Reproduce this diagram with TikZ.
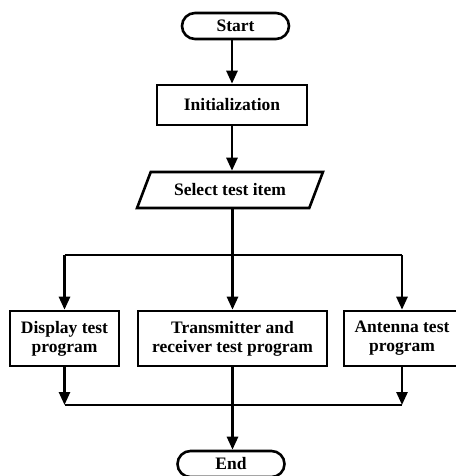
\documentclass[tikz,border=0pt]{standalone}
\usepackage{fontspec}
\setmainfont{Liberation Serif}
\usetikzlibrary{arrows.meta,shapes.geometric}
\begin{document}
\begin{tikzpicture}[x=1pt,y=-1pt,
  every node/.style={font=\fontsize{17.5}{19}\selectfont\bfseries, align=center, inner sep=0pt},
  ln/.style={line width=2.6pt},
  arr/.style={ln, -{Triangle[length=13pt,width=11pt]}},
  term/.style={draw, line width=2.6pt, rounded corners=13pt, minimum width=107pt, minimum height=26pt},
  proc/.style={draw, line width=2.6pt, minimum height=55pt},
  io/.style={draw, line width=2.6pt, trapezium, trapezium left angle=52, trapezium right angle=128,
             trapezium stretches=true, minimum width=186pt, minimum height=36pt}]
\useasboundingbox (0,0) rectangle (455,476);
\node[term] (start) at (235.5,26) {Start};
\node[proc, minimum width=150pt, minimum height=40pt] (init) at (232,105) {Initialization};
\node[io] (sel) at (230,190) {Select test item};
\node[proc, minimum width=109pt] (disp) at (64.5,338.5) {Display test\\program};
\node[proc, minimum width=189pt] (trx) at (232.5,338.5) {Transmitter and\\receiver test program};
\node[proc, minimum width=116pt] (ant) at (402,338.5) {Antenna test\\program};
\node[term] (end) at (231,464) {End};
\coordinate (tl) at (64.5,255);
\coordinate (tr) at (402,255);
\coordinate (bl) at (64.5,405);
\coordinate (br) at (402,405);
\draw[arr] (start.south -| init.north) -- (init.north);
\draw[arr] (init.south) -- (init.south |- sel.north);
\draw[arr] (sel.south -| trx.north) -- (trx.north);
\draw[ln] (tl) -- (tr);
\draw[arr] (tl) -- (disp.north);
\draw[arr] (tr) -- (ant.north);
\draw[arr] (disp.south) -- (bl);
\draw[arr] (ant.south) -- (br);
\draw[ln] (bl) -- (br);
\draw[arr] (trx.south) -- (trx.south |- end.north);
\end{tikzpicture}
\end{document}
